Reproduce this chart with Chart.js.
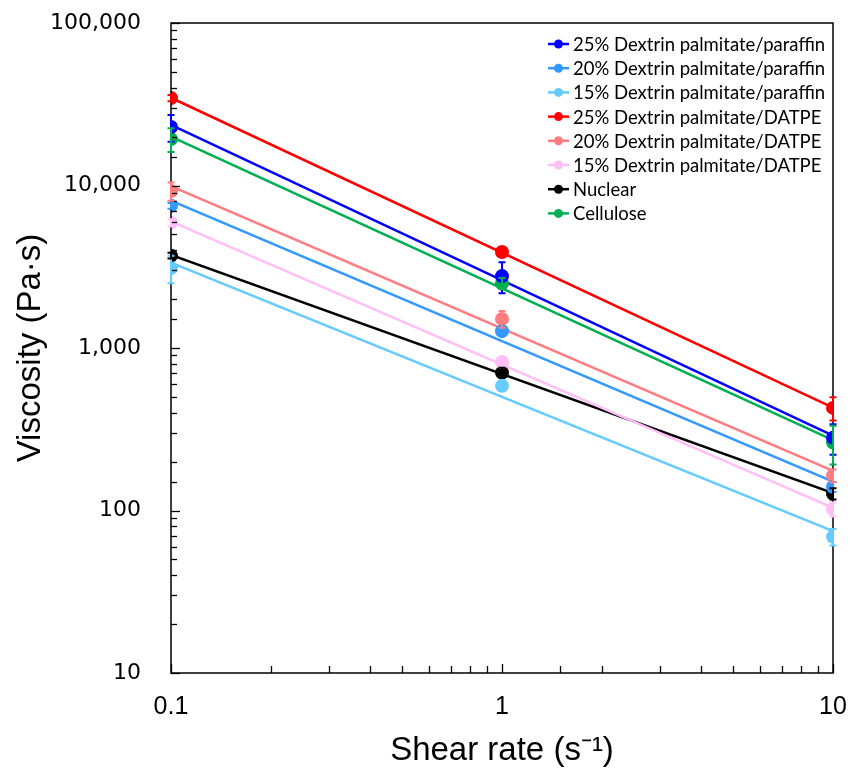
<!DOCTYPE html>
<html>
<head>
<meta charset="utf-8">
<script src="https://cdn.jsdelivr.net/npm/chart.js@4.4.1/dist/chart.umd.min.js"></script>
<style>
  html, body { margin: 0; padding: 0; background: #fff; }
  canvas { display: block; }
</style>
</head>
<body>
<canvas id="viscosityChart" width="853" height="771"></canvas>
<script>
// Shear rates (s^-1)
const shearRates = [0.1, 1, 10];

// Viscosity (Pa·s) for each formulation
const paraffin25 = [22900, 2770, 280];
const paraffin20 = [7500, 1270, 140];
const paraffin15 = [3100, 585, 69];
const datpe25 = [34500, 3900, 428];
const datpe20 = [9250, 1510, 164];
const datpe15 = [5900, 820, 102];
const nuclear = [3700, 705, 127];
const cellulose = [19300, 2500, 262];

// error bar half-heights
const paraffin25Err = [4300, 600, 60];
const paraffin20Err = [300, 60, 10];
const paraffin15Err = [600, 40, 8];
const datpe25Err = [1500, 150, 70];
const datpe20Err = [1200, 180, 15];
const datpe15Err = [300, 50, 10];
const nuclearErr = [150, 50, 10];
const celluloseErr = [3200, 200, 70];

const seriesNames = [
  '25% Dextrin palmitate/paraffin',
  '20% Dextrin palmitate/paraffin',
  '15% Dextrin palmitate/paraffin',
  '25% Dextrin palmitate/DATPE',
  '20% Dextrin palmitate/DATPE',
  '15% Dextrin palmitate/DATPE',
  'Nuclear',
  'Cellulose'
];
const seriesColors = ['#0000FF', '#3399FF', '#66CCFF', '#FF0000', '#FF7C80', '#FFBFF7', '#000000', '#00B050'];
const seriesValues = [paraffin25, paraffin20, paraffin15, datpe25, datpe20, datpe15, nuclear, cellulose];
const seriesErrors = [paraffin25Err, paraffin20Err, paraffin15Err, datpe25Err, datpe20Err, datpe15Err, nuclearErr, celluloseErr];

const xTickLabels = ['0.1', '1', '10'];
const yTickLabels = ['10', '100', '1,000', '10,000', '100,000'];

// power-law trendline (least squares in log-log space), like Excel's power fit
function powerFit(xs, ys) {
  const lx = xs.map(Math.log10), ly = ys.map(Math.log10);
  const n = xs.length;
  const mx = lx.reduce((a, b) => a + b, 0) / n;
  const my = ly.reduce((a, b) => a + b, 0) / n;
  let sxy = 0, sxx = 0;
  for (let i = 0; i < n; i++) {
    sxy += (lx[i] - mx) * (ly[i] - my);
    sxx += (lx[i] - mx) * (lx[i] - mx);
  }
  const b = sxy / sxx;
  const a = my - b * mx;
  return x => Math.pow(10, a + b * Math.log10(x));
}

const datasets = [];
seriesNames.forEach((name, i) => {
  const fit = powerFit(shearRates, seriesValues[i]);
  datasets.push({
    label: name + ' fit',
    data: [0.1, 10].map(x => ({ x: x, y: fit(x) })),
    borderColor: seriesColors[i],
    borderWidth: 2.5,
    pointRadius: 0,
    showLine: true,
    fill: false,
    order: 2
  });
});
seriesNames.forEach((name, i) => {
  datasets.push({
    label: name,
    data: shearRates.map((x, j) => ({ x: x, y: seriesValues[i][j] })),
    errors: seriesErrors[i],
    backgroundColor: seriesColors[i],
    borderColor: seriesColors[i],
    pointRadius: 7,
    pointBorderWidth: 0,
    showLine: false,
    order: 1
  });
});

const isDecade = v => Math.abs(Math.log10(v) - Math.round(Math.log10(v))) < 1e-6;

// plot frame + inward tick marks
const framePlugin = {
  id: 'frame',
  afterDatasetsDraw(chart) {
    const { ctx, chartArea: a, scales } = chart;
    ctx.save();
    ctx.strokeStyle = '#000';
    ctx.lineWidth = 1.5;
    ctx.strokeRect(a.left, a.top, a.right - a.left, a.bottom - a.top);
    ctx.lineWidth = 1.3;
    scales.x.ticks.forEach(t => {
      const px = Math.round(scales.x.getPixelForValue(t.value)) + 0.5;
      const len = isDecade(t.value) ? 9 : 7;
      ctx.beginPath();
      ctx.moveTo(px, a.bottom);
      ctx.lineTo(px, a.bottom - len);
      ctx.stroke();
    });
    scales.y.ticks.forEach(t => {
      const py = Math.round(scales.y.getPixelForValue(t.value)) + 0.5;
      const len = isDecade(t.value) ? 9 : 6;
      ctx.beginPath();
      ctx.moveTo(a.left, py);
      ctx.lineTo(a.left + len, py);
      ctx.stroke();
    });
    ctx.restore();
  }
};

// vertical error bars with caps
const errorBarPlugin = {
  id: 'errorBars',
  afterDatasetsDraw(chart) {
    const { ctx, scales } = chart;
    ctx.save();
    ctx.lineWidth = 2;
    chart.data.datasets.forEach(ds => {
      if (!ds.errors) return;
      ctx.strokeStyle = ds.borderColor;
      ds.data.forEach((p, j) => {
        const e = ds.errors[j];
        const px = scales.x.getPixelForValue(p.x);
        const yTop = scales.y.getPixelForValue(p.y + e);
        const yBot = scales.y.getPixelForValue(p.y - e);
        ctx.beginPath();
        ctx.moveTo(px, yTop); ctx.lineTo(px, yBot);
        ctx.moveTo(px - 3.5, yTop); ctx.lineTo(px + 3.5, yTop);
        ctx.moveTo(px - 3.5, yBot); ctx.lineTo(px + 3.5, yBot);
        ctx.stroke();
      });
    });
    ctx.restore();
  }
};

// legend in the upper right of the plot: line + marker + text
const legendPlugin = {
  id: 'lineLegend',
  afterDraw(chart) {
    const { ctx, chartArea: a } = chart;
    const x0 = a.right - 285;
    ctx.save();
    ctx.font = '18.5px Lato, "Open Sans", sans-serif';
    ctx.textBaseline = 'middle';
    ctx.fillStyle = '#000';
    seriesNames.forEach((name, i) => {
      const y = a.top + 21 + i * 24.2;
      ctx.strokeStyle = seriesColors[i];
      ctx.lineWidth = 2.5;
      ctx.beginPath();
      ctx.moveTo(x0, y); ctx.lineTo(x0 + 21, y);
      ctx.stroke();
      ctx.fillStyle = seriesColors[i];
      ctx.beginPath();
      ctx.arc(x0 + 10.5, y, 4.5, 0, Math.PI * 2);
      ctx.fill();
      ctx.fillStyle = '#000';
      ctx.fillText(name, x0 + 25, y + 1);
    });
    ctx.restore();
  }
};

const config = {
  type: 'scatter',
  data: { datasets: datasets },
  options: {
    responsive: false,
    animation: false,
    layout: { padding: { top: 23, right: 20, left: 0, bottom: 0 } },
    plugins: {
      legend: { display: false },
      tooltip: { enabled: false }
    },
    scales: {
      x: {
        type: 'logarithmic',
        min: 0.1,
        max: 10,
        // tickLength only offsets the labels; the real ticks are drawn inward by the frame plugin
        grid: { display: false, drawTicks: true, tickLength: 19 },
        border: { display: false },
        afterFit: s => { s.height = 98; },
        ticks: {
          autoSkip: false,
          maxRotation: 0,
          padding: 0,
          color: '#000',
          font: { family: '"Liberation Sans", Arial, sans-serif', size: 25 },
          callback: v => {
            const k = xTickLabels.indexOf(String(v));
            return isDecade(v) && k >= 0 ? xTickLabels[k] : '';
          }
        },
        title: {
          display: true,
          text: 'Shear rate (s\u207B\u00B9)',
          color: '#000',
          font: { family: '"Liberation Sans", Arial, sans-serif', size: 33 },
          padding: { top: 0, bottom: 0 }
        }
      },
      y: {
        type: 'logarithmic',
        min: 10,
        max: 100000,
        grid: { display: false, drawTicks: true, tickLength: 30 },
        border: { display: false },
        afterFit: s => { s.width = 171; },
        ticks: {
          autoSkip: false,
          padding: 0,
          color: '#000',
          font: { family: '"DejaVu Sans", sans-serif', size: 22 },
          callback: v => {
            if (!isDecade(v)) return '';
            return yTickLabels[Math.round(Math.log10(v)) - 1] || '';
          }
        },
        title: {
          display: true,
          text: 'Viscosity (Pa\u00B7s)',
          color: '#000',
          font: { family: '"Liberation Sans", Arial, sans-serif', size: 33 },
          padding: { top: 11, bottom: 0 }
        }
      }
    }
  },
  plugins: [framePlugin, errorBarPlugin, legendPlugin]
};

new Chart(document.getElementById('viscosityChart').getContext('2d'), config);
</script>
</body>
</html>
